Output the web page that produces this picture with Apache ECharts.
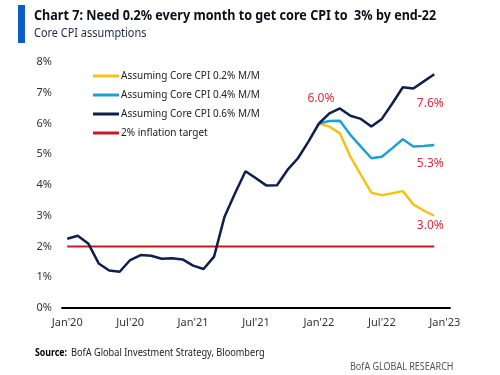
<!DOCTYPE html>
<html>
<head>
<meta charset="utf-8">
<script src="https://cdn.jsdelivr.net/npm/echarts@6/dist/echarts.min.js"></script>
<style>
  html, body { margin: 0; padding: 0; background: #fff; }
  #chart { width: 500px; height: 375px; }
</style>
</head>
<body>
<div id="chart"></div>
<script>
// months Jan'20 .. Jan'23
const monthNames = ['Jan', 'Feb', 'Mar', 'Apr', 'May', 'Jun', 'Jul', 'Aug', 'Sep', 'Oct', 'Nov', 'Dec'];
const categories = [];
['20', '21', '22'].forEach(y => monthNames.forEach(m => categories.push(m + "'" + y)));
categories.push("Jan'23");

// actual core CPI, Jan'20 .. Jan'22 (then projections)
const actual = [2.25, 2.35, 2.1, 1.45, 1.22, 1.18, 1.56, 1.72, 1.7, 1.6, 1.62, 1.58,
                1.38, 1.27, 1.67, 2.97, 3.73, 4.45, 4.22, 3.98, 3.99, 4.49, 4.87, 5.41,
                6.0];
// projections Jan'22 .. Dec'22
const proj02 = [6.0, 5.9, 5.68, 4.92, 4.33, 3.75, 3.67, 3.73, 3.8, 3.37, 3.17, 3.0];
const proj04 = [6.0, 6.08, 6.09, 5.63, 5.25, 4.87, 4.92, 5.2, 5.49, 5.25, 5.27, 5.3];
const proj06 = [6.0, 6.33, 6.49, 6.25, 6.15, 5.9, 6.15, 6.65, 7.18, 7.14, 7.37, 7.6];
const target = [2, 2, 2, 2, 2, 2, 2, 2, 2, 2, 2, 2,
                2, 2, 2, 2, 2, 2, 2, 2, 2, 2, 2, 2,
                2, 2, 2, 2, 2, 2, 2, 2, 2, 2, 2, 2];
const yTicks = [0, 8, 1]; // min, max, interval

const font = '"Noto Sans", sans-serif';
const red = '#d6303a';
const names = ['Assuming Core CPI 0.2% M/M', 'Assuming Core CPI 0.4% M/M', 'Assuming Core CPI 0.6% M/M', '2% inflation target'];

const startIdx = actual.length - 1;
const pad = arr => new Array(startIdx).fill(null).concat(arr);
const pctLabel = (offset) => ({
  show: true, position: 'inside', offset: offset,
  formatter: p => p.value.toFixed(1) + '%',
  color: red, fontSize: 12, fontFamily: font
});
const withEnd = (arr, offset) => arr.map((v, i) => i === arr.length - 1 ? { value: v, label: pctLabel(offset) } : v);

// condensed-looking text (no narrow font installed), drawn with a horizontal squeeze
const squeezed = (x, y, text, f, fill, sx) => ({
  type: 'text', x: x, y: y, scaleX: sx,
  style: { text: text, font: f, fill: fill, textVerticalAlign: 'middle' }
});

const chart = echarts.init(document.getElementById('chart'));
chart.setOption({
  animation: false,
  textStyle: { fontFamily: font },
  graphic: [
    { type: 'rect', shape: { x: 18, y: 5, width: 7, height: 38 }, style: { fill: '#0b5bc8' } },
    squeezed(34, 16, 'Chart 7: Need 0.2% every month to get core CPI to  3% by end-22', 'bold 15px "Noto Sans", sans-serif', '#0d0d1a', 0.84),
    squeezed(34, 33, 'Core CPI assumptions', '13px "Noto Sans", sans-serif', '#1b2a4a', 0.84),
    squeezed(35, 353, 'Source:', 'bold 10px "Noto Sans", sans-serif', '#000', 0.88),
    squeezed(71, 353, 'BofA Global Investment Strategy, Bloomberg', '10px "Noto Sans", sans-serif', '#222', 0.92),
    squeezed(350, 367, 'BofA GLOBAL RESEARCH', '10px "Noto Sans", sans-serif', '#555', 0.9)
  ],
  legend: {
    orient: 'vertical', left: 88, top: 66,
    data: names,
    icon: 'rect', itemWidth: 26, itemHeight: 3, itemGap: 9,
    textStyle: { fontSize: 10, color: '#222', fontFamily: font, padding: [0, 0, 0, -3] }
  },
  grid: { left: 62, right: 50, top: 62, bottom: 67 },
  xAxis: {
    type: 'category',
    data: categories,
    boundaryGap: true,
    axisLine: { lineStyle: { color: '#000', width: 2 } },
    axisTick: { show: false },
    axisLabel: { interval: 5, color: '#333', fontSize: 11, margin: 9 }
  },
  yAxis: {
    type: 'value',
    min: yTicks[0], max: yTicks[1], interval: yTicks[2],
    axisLine: { show: false },
    axisTick: { show: false },
    splitLine: { show: false },
    axisLabel: { formatter: '{value}%', color: '#333', fontSize: 11, margin: 10 }
  },
  series: [
    {
      name: names[3], type: 'line', data: target, showSymbol: false, z: 1,
      lineStyle: { color: '#c81a22', width: 2 }, itemStyle: { color: '#c81a22' }
    },
    {
      name: names[0], type: 'line', data: pad(withEnd(proj02, [-4, 10])), symbolSize: 0, z: 2,
      lineStyle: { color: '#f2c41a', width: 2.5 }, itemStyle: { color: '#f2c41a' }
    },
    {
      name: names[1], type: 'line', data: pad(withEnd(proj04, [-4, 19])), symbolSize: 0, z: 3,
      lineStyle: { color: '#1fa0d4', width: 2.5 }, itemStyle: { color: '#1fa0d4' }
    },
    {
      name: names[2], type: 'line', data: pad(withEnd(proj06, [-4, 29])), symbolSize: 0, z: 4,
      lineStyle: { color: '#0e1f4d', width: 2.5 }, itemStyle: { color: '#0e1f4d' }
    },
    {
      name: names[2], type: 'line', symbolSize: 0, z: 5,
      data: actual.map((v, i) => i === actual.length - 1 ? { value: v, label: pctLabel([2, -25]) } : v),
      lineStyle: { color: '#0e1f4d', width: 2.5 }, itemStyle: { color: '#0e1f4d' }
    }
  ]
});
</script>
</body>
</html>
